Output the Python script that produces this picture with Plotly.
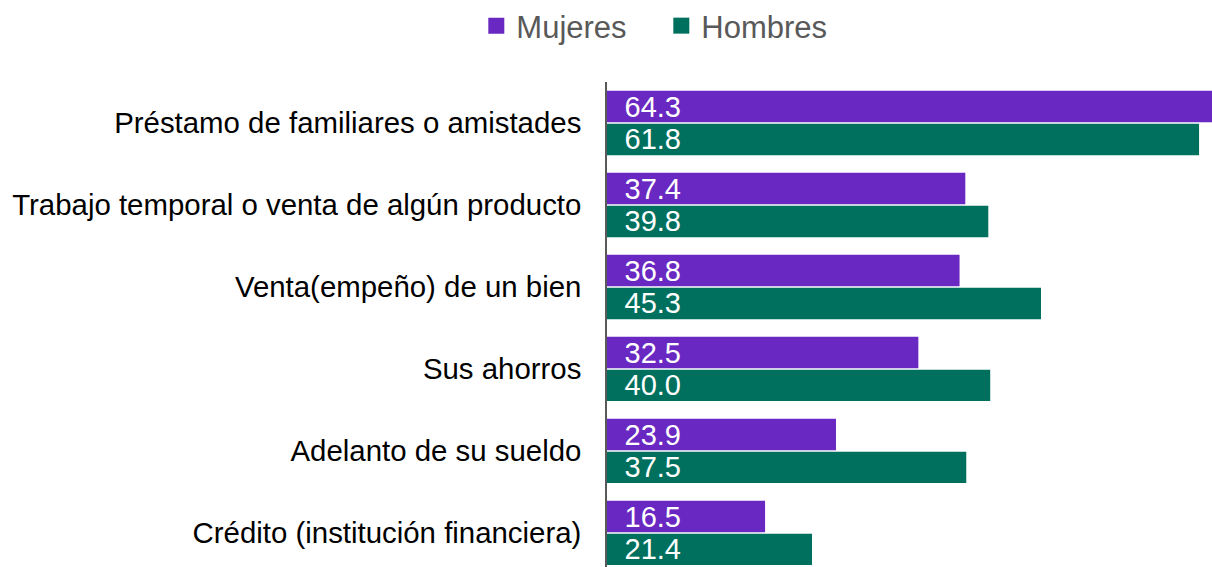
import plotly.graph_objects as go

categories = [
    "Préstamo de familiares o amistades",
    "Trabajo temporal o venta de algún producto",
    "Venta(empeño) de un bien",
    "Sus ahorros",
    "Adelanto de su sueldo",
    "Crédito (institución financiera)",
]
mujeres = [64.3, 37.4, 36.8, 32.5, 23.9, 16.5]
hombres = [61.8, 39.8, 45.3, 40.0, 37.5, 21.4]
series_names = ["Mujeres", "Hombres"]
colors = ["#6A28C2", "#00705E"]

fig = go.Figure()
for name, vals, col in zip(series_names, [mujeres, hombres], colors):
    fig.add_trace(go.Bar(
        y=categories, x=vals, orientation="h", name=name,
        marker=dict(color=col, line=dict(width=0)),
        text=["\u2002" + f"{v:.1f}" for v in vals],
        textposition="inside", insidetextanchor="start",
        constraintext="none",
        textfont=dict(color="white", size=29, family="Liberation Sans, Arial"),
        showlegend=False, hoverinfo="skip",
    ))
# legend entries
for name, col in zip(series_names, colors):
    fig.add_trace(go.Scatter(
        x=[None], y=[None], mode="markers", name=name,
        marker=dict(symbol="square", size=16, color=col),
        showlegend=True,
    ))

fig.update_layout(
    width=1212, height=567,
    margin=dict(l=607, r=0, t=82, b=0, autoexpand=False),
    paper_bgcolor="white", plot_bgcolor="white",
    barmode="group", bargap=0.2, bargroupgap=0.04,
    font=dict(family="Liberation Sans, Arial", size=29, color="#000000"),
    legend=dict(
        orientation="h", xref="container", yref="container",
        x=0.393, xanchor="left", y=1 - 26 / 567, yanchor="middle",
        font=dict(size=31, color="#595959"),
        traceorder="normal", itemsizing="trace",
        entrywidth=140,
    ),
    xaxis=dict(range=[0, 63.15], showgrid=False, zeroline=False,
               showticklabels=False, showline=False, fixedrange=True),
    yaxis=dict(categoryorder="array", categoryarray=categories,
               range=[5.415, -0.5], showgrid=False, zeroline=False,
               showline=True, linecolor="#595959", linewidth=1.5,
               ticks="", ticklabelstandoff=18, fixedrange=True,
               tickfont=dict(size=29.4, color="#000000")),
)

fig.write_html(
    "out.html",
    config={"displayModeBar": False},
    post_script="document.body.style.margin='0';document.body.style.overflow='hidden';",
)
